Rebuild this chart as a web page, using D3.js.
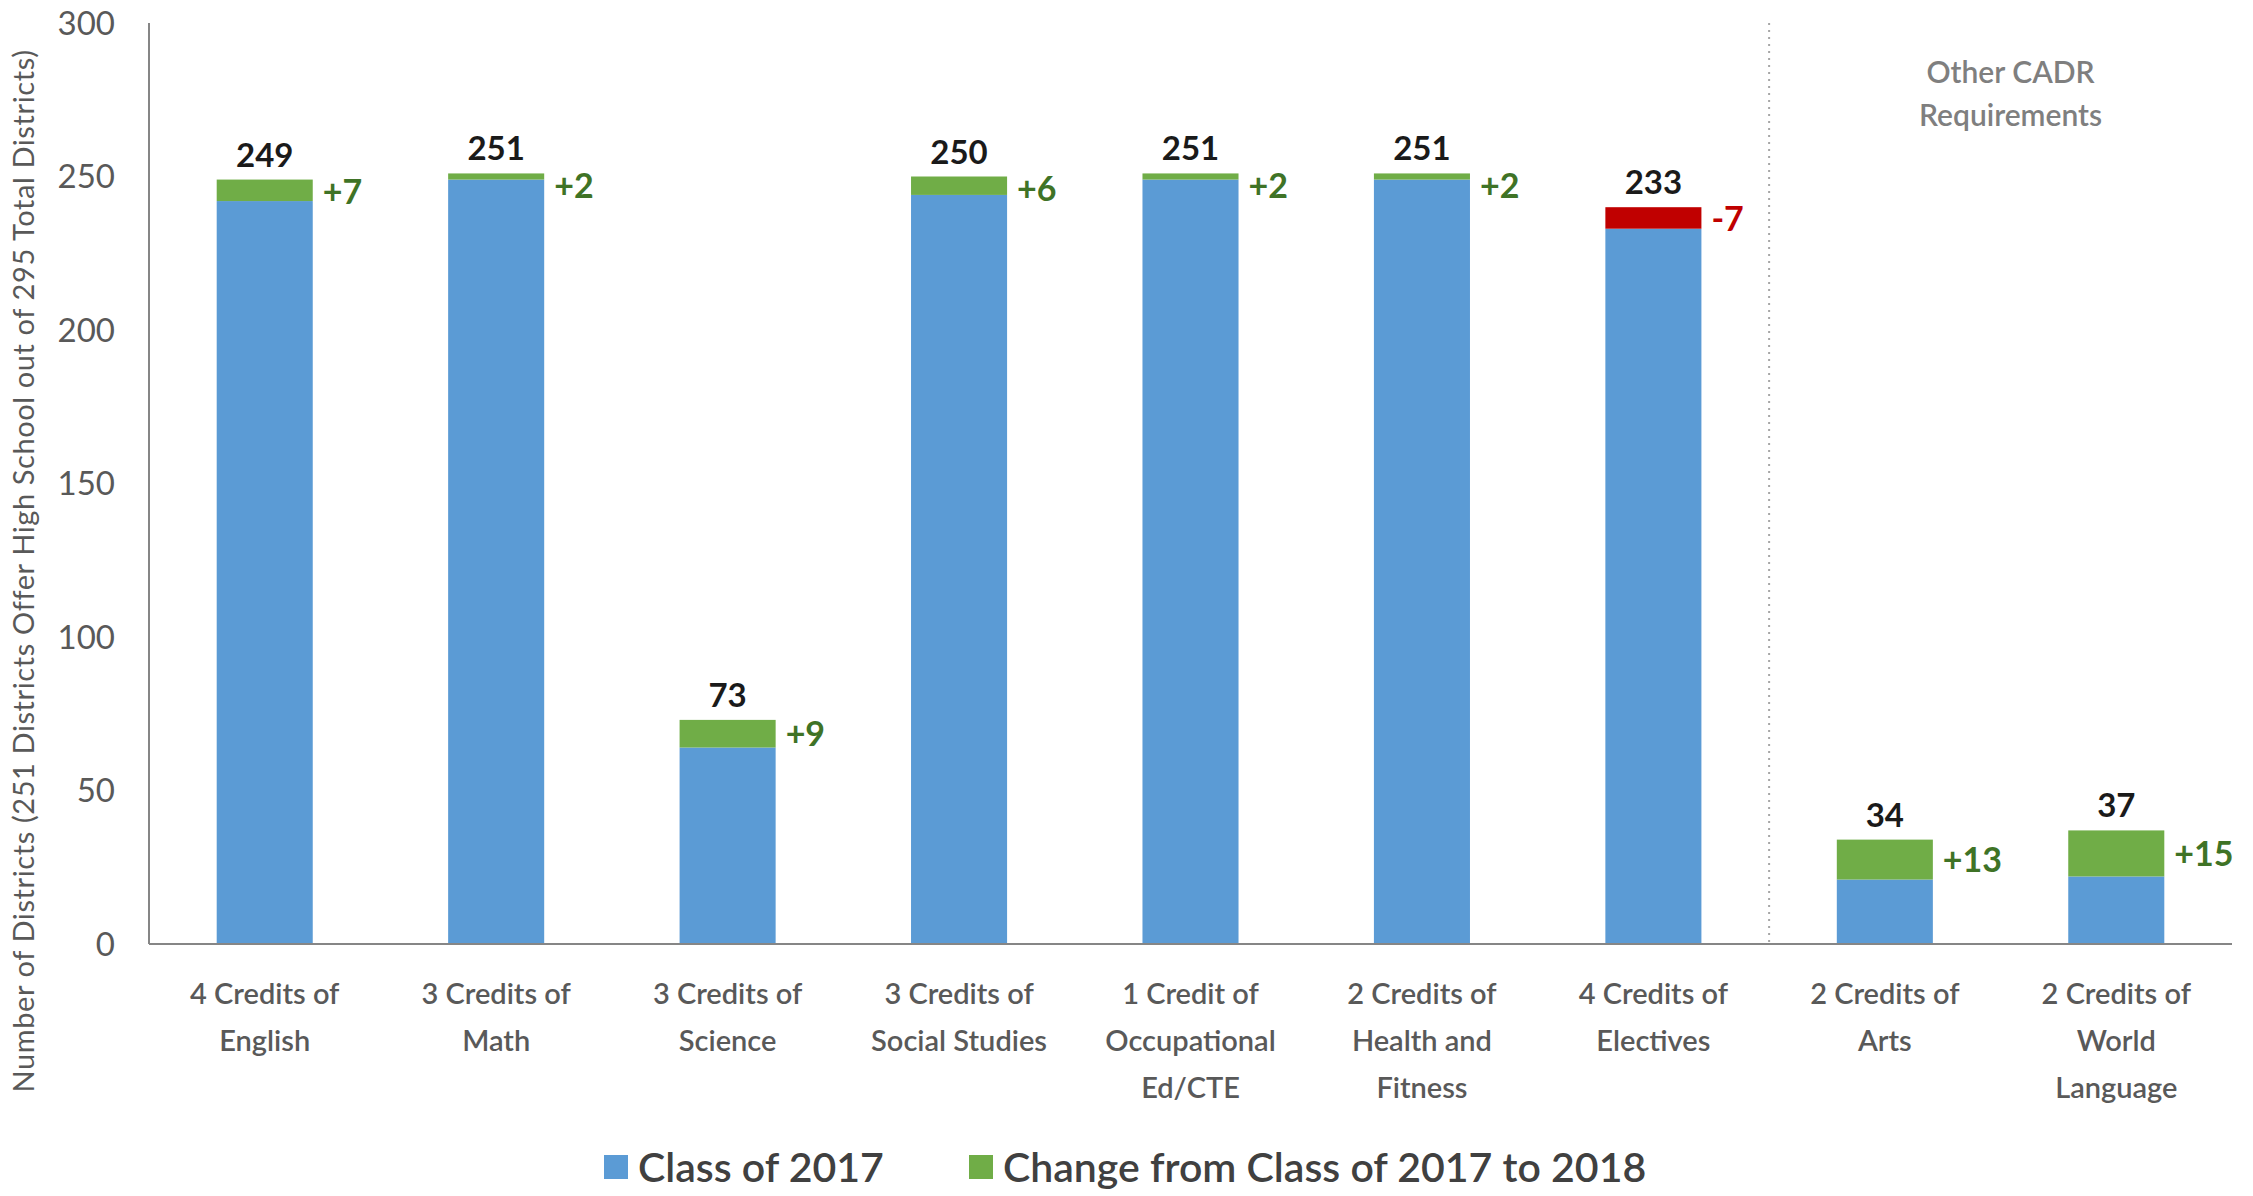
<!DOCTYPE html>
<html>
<head>
<meta charset="utf-8">
<script src="https://cdn.jsdelivr.net/npm/d3@7"></script>
<style>
  html, body { margin: 0; padding: 0; background: #fff; }
  svg { display: block; font-family: Lato, 'Open Sans', sans-serif; }
</style>
</head>
<body>
<div id="chart"></div>
<script>
const categories = [
  ['4 Credits of', 'English'],
  ['3 Credits of', 'Math'],
  ['3 Credits of', 'Science'],
  ['3 Credits of', 'Social Studies'],
  ['1 Credit of', 'Occupational', 'Ed/CTE'],
  ['2 Credits of', 'Health and', 'Fitness'],
  ['4 Credits of', 'Electives'],
  ['2 Credits of', 'Arts'],
  ['2 Credits of', 'World', 'Language'],
];
const totals2018 = [249, 251, 73, 250, 251, 251, 233, 34, 37];
const changes = [7, 2, 9, 6, 2, 2, -7, 13, 15];
const yTicks = [0, 50, 100, 150, 200, 250, 300];
const legendItems = ['Class of 2017', 'Change from Class of 2017 to 2018'];
const sectionLabel = ['Other CADR', 'Requirements'];
const yTitle = 'Number of Districts (251 Districts Offer High School out of 295 Total Districts)';

const width = 2253;
const height = 1196;
const margin = { left: 149, right: 21, top: 23, bottom: 252 };

const BLUE = '#5b9bd5';
const GREEN = '#70ad47';
const RED = '#c00000';
const AXIS = '#868686';
const TEXT = '#595959';

const svg = d3.select('#chart').append('svg').attr('width', width).attr('height', height);

const x = d3
  .scaleBand()
  .domain(d3.range(categories.length))
  .range([margin.left, width - margin.right])
  .paddingInner(0.585)
  .paddingOuter(0.2925);
const y = d3
  .scaleLinear()
  .domain([0, 300])
  .range([height - margin.bottom, margin.top]);

const center = (i) => x(i) + x.bandwidth() / 2;

// y axis: line + labels, no ticks
svg
  .append('line')
  .attr('x1', margin.left)
  .attr('x2', margin.left)
  .attr('y1', y(300))
  .attr('y2', y(0))
  .attr('stroke', AXIS)
  .attr('stroke-width', 2);

svg
  .append('g')
  .selectAll('text')
  .data(yTicks)
  .join('text')
  .attr('x', margin.left - 34)
  .attr('y', (d) => y(d))
  .attr('dy', '0.36em')
  .attr('text-anchor', 'end')
  .attr('fill', TEXT)
  .style('font-size', '33px')
  .text((d) => d);

svg
  .append('text')
  .attr('transform', 'rotate(-90)')
  .attr('x', -571)
  .attr('y', 34)
  .attr('text-anchor', 'middle')
  .attr('fill', TEXT)
  .style('font-size', '29px')
  .style('letter-spacing', '0.6px')
  .text(yTitle);

// divider between core and other requirements
const dividerX = (center(6) + center(7)) / 2;
svg
  .append('line')
  .attr('x1', dividerX)
  .attr('x2', dividerX)
  .attr('y1', y(300))
  .attr('y2', y(0))
  .attr('stroke', '#a6a6a6')
  .attr('stroke-width', 2)
  .attr('stroke-dasharray', '2 5');

const sectionX = (center(7) + center(8)) / 2 + 10;
svg
  .append('text')
  .attr('y', 72)
  .attr('text-anchor', 'middle')
  .attr('fill', '#7f7f7f')
  .style('font-size', '30px')
  .style('font-weight', 600)
  .selectAll('tspan')
  .data(sectionLabel)
  .join('tspan')
  .attr('x', sectionX)
  .attr('dy', (d, i) => (i === 0 ? '0.36em' : '1.45em'))
  .text((d) => d);

// bars
const rows = totals2018.map((total, i) => {
  const before = total - changes[i];
  return { i, total, change: changes[i], lo: Math.min(total, before), hi: Math.max(total, before) };
});

const bars = svg.append('g');
bars
  .selectAll('rect.base')
  .data(rows)
  .join('rect')
  .attr('class', 'base')
  .attr('x', (d) => x(d.i))
  .attr('width', x.bandwidth())
  .attr('y', (d) => y(d.lo))
  .attr('height', (d) => y(0) - y(d.lo))
  .attr('fill', BLUE);

bars
  .selectAll('rect.delta')
  .data(rows)
  .join('rect')
  .attr('class', 'delta')
  .attr('x', (d) => x(d.i))
  .attr('width', x.bandwidth())
  .attr('y', (d) => y(d.hi))
  .attr('height', (d) => y(d.lo) - y(d.hi))
  .attr('fill', (d) => (d.change < 0 ? RED : GREEN));

// x axis line
svg
  .append('line')
  .attr('x1', margin.left)
  .attr('x2', width - margin.right)
  .attr('y1', y(0))
  .attr('y2', y(0))
  .attr('stroke', AXIS)
  .attr('stroke-width', 2);

// total labels above bars
svg
  .append('g')
  .selectAll('text')
  .data(rows)
  .join('text')
  .attr('x', (d) => center(d.i))
  .attr('y', (d) => y(d.hi) - 13)
  .attr('text-anchor', 'middle')
  .attr('fill', '#1a1a1a')
  .style('font-size', '33px')
  .style('font-weight', 700)
  .text((d) => d.total);

// change labels to the right of the bars
svg
  .append('g')
  .selectAll('text')
  .data(rows)
  .join('text')
  .attr('x', (d) => x(d.i) + x.bandwidth() + 10)
  .attr('y', (d) => Math.max((y(d.hi) + y(d.lo)) / 2, y(d.hi) + 12))
  .attr('dy', '0.36em')
  .attr('fill', (d) => (d.change < 0 ? RED : '#3f7326'))
  .style('font-size', '34px')
  .style('font-weight', 700)
  .text((d) => (d.change > 0 ? '+' + d.change : String(d.change)));

// category labels
svg
  .append('g')
  .selectAll('text')
  .data(categories)
  .join('text')
  .attr('text-anchor', 'middle')
  .attr('fill', TEXT)
  .style('font-size', '29px')
  .style('font-weight', 600)
  .each(function (lines, i) {
    d3.select(this)
      .selectAll('tspan')
      .data(lines)
      .join('tspan')
      .attr('x', center(i))
      .attr('y', (d, k) => y(0) + 50 + k * 47)
      .attr('dy', '0.36em')
      .text((d) => d);
  });

// legend
const legend = svg.append('g').attr('transform', `translate(0, ${height - 29})`);
const legendX = [604, 969];
[BLUE, GREEN].forEach((c, i) => {
  legend
    .append('rect')
    .attr('x', legendX[i])
    .attr('y', -12)
    .attr('width', 24)
    .attr('height', 24)
    .attr('fill', c);
  legend
    .append('text')
    .attr('x', legendX[i] + 34)
    .attr('y', 0)
    .attr('dy', '0.36em')
    .attr('fill', '#404040')
    .style('font-size', '41px')
    .style('font-weight', 600)
    .text(legendItems[i]);
});
</script>
</body>
</html>
